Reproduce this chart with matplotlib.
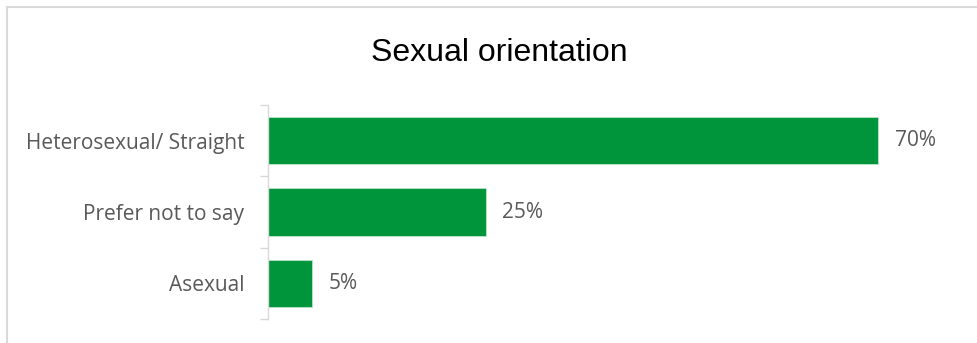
import matplotlib
matplotlib.use("Agg")
import matplotlib.pyplot as plt
from matplotlib.lines import Line2D

categories = ["Heterosexual/ Straight", "Prefer not to say", "Asexual"]
shares = [0.70, 0.25, 0.05]
value_labels = ["70%", "25%", "5%"]

BAR_GREEN = "#00953b"
TEXT_GRAY = "#595959"
AXIS_GRAY = "#d9d9d9"

W, H = 978, 343
fig = plt.figure(figsize=(W / 100, H / 100), dpi=100)
ax = fig.add_axes([268 / W, 24 / H, (965 - 268) / W, (319 - 105) / H])

y = list(range(len(categories)))
ax.barh(y, shares, height=0.66, color=BAR_GREEN, edgecolor="#c8ead2", linewidth=0.5)
ax.set_xlim(0, 0.80)
ax.set_ylim(len(categories) - 0.5, -0.5)

for yi, v, lab in zip(y, shares, value_labels):
    ax.annotate(lab, (v, yi), xytext=(12, 0), textcoords="offset points",
                ha="left", va="center", fontsize=15, color=TEXT_GRAY,
                family="Open Sans")

# category labels, with tick marks only between categories
ax.set_yticks(y)
ax.set_yticklabels(categories, fontsize=15, color=TEXT_GRAY, family="Open Sans")
ax.tick_params(axis="y", which="major", length=0, pad=17)
ax.set_yticks([i - 0.5 for i in range(len(categories) + 1)], minor=True)
ax.tick_params(axis="y", which="minor", length=6, color=AXIS_GRAY, width=1)
ax.set_xticks([])
for side in ("top", "right", "bottom"):
    ax.spines[side].set_visible(False)
ax.spines["left"].set_color(AXIS_GRAY)
ax.spines["left"].set_linewidth(1)

fig.text(499 / W, 1 - 53 / H, "Sexual orientation", ha="center", va="center",
         fontsize=23, family="Liberation Sans", color="black")

# chart area frame (top and left edges)
fig.add_artist(Line2D([7 / W, 1], [1 - 7 / H, 1 - 7 / H], color=AXIS_GRAY, lw=1.5,
                      transform=fig.transFigure))
fig.add_artist(Line2D([7 / W, 7 / W], [0, 1 - 7 / H], color=AXIS_GRAY, lw=1.5,
                      transform=fig.transFigure))

fig.savefig("out.png", dpi=100)
